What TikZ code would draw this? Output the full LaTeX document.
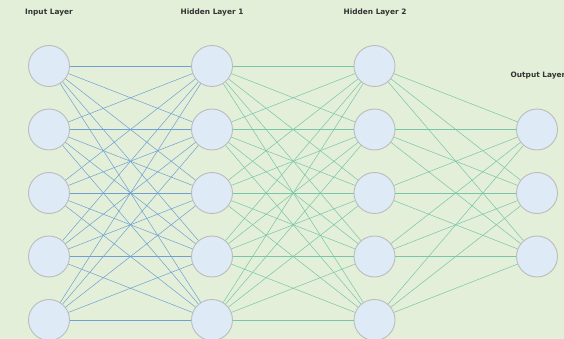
\documentclass[tikz,border=0pt]{standalone}
\usepackage{fontspec}
\setmainfont{DejaVu Sans}
\usepackage{xcolor}
\usepackage{tikz}
\definecolor{bgpanel}{RGB}{227,239,216}
\definecolor{neuronfill}{RGB}{222,234,246}
\definecolor{neuronedge}{RGB}{188,188,188}
\definecolor{wblue}{RGB}{110,160,212}
\definecolor{wgreen}{RGB}{118,198,168}
\definecolor{labeltext}{RGB}{51,51,51}
\tikzset{
  neuron/.style={circle,draw=neuronedge,fill=neuronfill,line width=0.9pt,
    minimum size=41pt,inner sep=0pt},
  layerlabel/.style={font=\bfseries\fontsize{7.4}{8}\selectfont,text=labeltext,
    inner sep=0pt},
  bluearc/.style={wblue,line width=0.5pt},
  greenarc/.style={wgreen,line width=0.5pt}
}

\begin{document}
\begin{tikzpicture}[x=1pt,y=-1pt]
  \fill[bgpanel] (0,0) rectangle (564,339);
  \useasboundingbox (0,0) rectangle (564,339);
  % layer titles
  \node[layerlabel] (tin) at (49,12.5) {Input Layer};
  \node[layerlabel] (th1) at (212,12.5) {Hidden Layer 1};
  \node[layerlabel] (th2) at (375,12.5) {Hidden Layer 2};
  \node[layerlabel] (tout) at (538,75.5) {Output Layer};
  % neurons
  \node[neuron] (i1) at (49,66) {};
  \node[neuron] (i2) at (49,129.5) {};
  \node[neuron] (i3) at (49,193) {};
  \node[neuron] (i4) at (49,256.5) {};
  \node[neuron] (i5) at (49,320) {};
  \node[neuron] (a1) at (212,66) {};
  \node[neuron] (a2) at (212,129.5) {};
  \node[neuron] (a3) at (212,193) {};
  \node[neuron] (a4) at (212,256.5) {};
  \node[neuron] (a5) at (212,320) {};
  \node[neuron] (b1) at (374.5,66) {};
  \node[neuron] (b2) at (374.5,129.5) {};
  \node[neuron] (b3) at (374.5,193) {};
  \node[neuron] (b4) at (374.5,256.5) {};
  \node[neuron] (b5) at (374.5,320) {};
  \node[neuron] (o1) at (537,129.5) {};
  \node[neuron] (o2) at (537,193) {};
  \node[neuron] (o3) at (537,256.5) {};
  % weights
  \foreach \s in {1,...,5}
    \foreach \t in {1,...,5}
      \draw[bluearc] (i\s) -- (a\t);
  \foreach \s in {1,...,5}
    \foreach \t in {1,...,5}
      \draw[greenarc] (a\s) -- (b\t);
  \foreach \s in {1,...,5}
    \foreach \t in {1,2,3}
      \draw[greenarc] (b\s) -- (o\t);
\end{tikzpicture}
\end{document}
